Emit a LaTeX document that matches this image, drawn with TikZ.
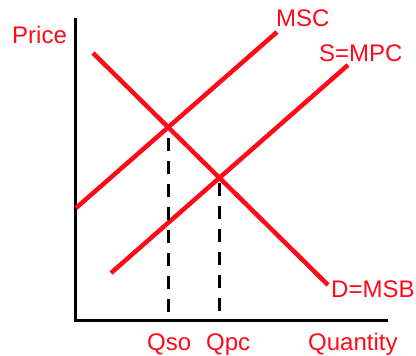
\documentclass[tikz,border=0pt]{standalone}
\usepackage{fontspec}
\setmainfont{Liberation Sans}
\definecolor{CurveRed}{RGB}{255, 10, 25}
\usepackage{tikz}
\usetikzlibrary{calc}

\begin{document}
\begin{tikzpicture}[x=1pt, y=-1pt,
    curve/.style={CurveRed, line width=4.5pt},
    axis/.style={black, line width=3pt, line cap=rect},
    guide/.style={black, line width=3pt, dash pattern=on 13pt off 10pt},
    lbl/.style={text=CurveRed, font=\fontsize{24}{28}\selectfont, inner sep=0pt, anchor=base west}]
    \useasboundingbox (0,0) rectangle (416,356);

    % axes
    \coordinate (origin) at (75,320);
    \coordinate (ytop) at (75,19);
    \coordinate (xend) at (386,320);
    \draw[axis] (ytop) -- (origin) -- (xend);

    % curves
    \coordinate (dstart) at (93,53);
    \coordinate (dend) at (328,285);
    \coordinate (mscstart) at (76,208);
    \coordinate (mscend) at (277,32);
    \coordinate (sstart) at (111,273);
    \coordinate (send) at (348,65);
    \draw[curve] (dstart) -- (dend);
    \draw[curve] (mscstart) -- (mscend);
    \draw[curve] (sstart) -- (send);

    % equilibria
    \coordinate (so) at (168,128);
    \coordinate (pc) at (219,178);
    \draw[guide] ($(so)+(0,10)$) -- ($(so |- origin)+(0,-5)$);
    \draw[guide] ($(pc)+(0,5)$) -- ($(pc |- origin)+(0,-5)$);

    % labels
    \node[lbl] (price) at (12,43) {Price};
    \node[lbl] (msc) at (276,27) {MSC};
    \node[lbl] (mpc) at (319,61) {S=MPC};
    \node[lbl] (msb) at (331,297) {D=MSB};
    \node[lbl] (qso) at (147,350) {Qso};
    \node[lbl] (qpc) at (206,350) {Qpc};
    \node[lbl] (qty) at (308,350) {Quantity};
\end{tikzpicture}
\end{document}
